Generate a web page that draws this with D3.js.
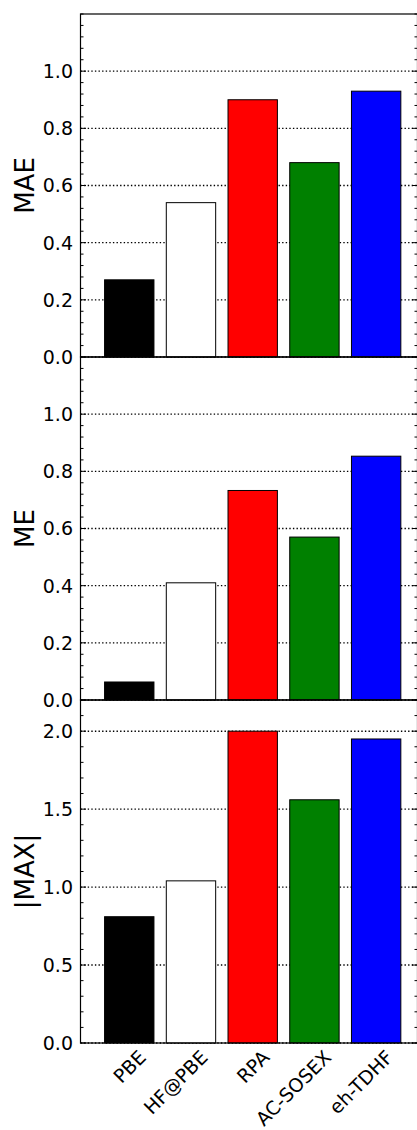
<!DOCTYPE html>
<html>
<head>
<meta charset="utf-8">
<script src="https://cdn.jsdelivr.net/npm/d3@7"></script>
<style>
  html, body { margin: 0; padding: 0; background: #ffffff; }
  svg { display: block; }
  text { font-family: "DejaVu Sans", sans-serif; fill: #000; }
</style>
</head>
<body>
<svg id="chart" width="417" height="1130"></svg>
<script>
// ---- data ----
const categories = ["PBE", "HF@PBE", "RPA", "AC-SOSEX", "eh-TDHF"];
const barColors = ["#000000", "#ffffff", "#ff0000", "#008000", "#0000ff"];
const maeValues = [0.27, 0.54, 0.90, 0.68, 0.93];
const meValues = [0.063, 0.41, 0.733, 0.57, 0.853];
const maxValues = [0.81, 1.04, 2.00, 1.56, 1.95];
const panelLabels = ["MAE", "ME", "|MAX|"];
const smallMajorTicks = [0.0, 0.2, 0.4, 0.6, 0.8, 1.0];
const largeMajorTicks = [0.0, 0.5, 1.0, 1.5, 2.0];
const smallMinorStep = 0.04;
const largeMinorStep = 0.1;
const smallYMax = 1.2;
const largeYMax = 2.2;

const panels = [
  { label: panelLabels[0], values: maeValues, ymax: smallYMax, major: smallMajorTicks, minorStep: smallMinorStep },
  { label: panelLabels[1], values: meValues, ymax: smallYMax, major: smallMajorTicks, minorStep: smallMinorStep },
  { label: panelLabels[2], values: maxValues, ymax: largeYMax, major: largeMajorTicks, minorStep: largeMinorStep }
];

// ---- layout ----
const svg = d3.select("#chart");
const left = 80.5, right = 417.5;
const top0 = 14, panelH = 343;
const fontTick = 19, fontLabel = 26;

const x = d3.scaleLinear().domain([-0.79, 4.67]).range([left, right]);
const barW = 0.8;

panels.forEach((p, pi) => {
  const top = top0 + pi * panelH;
  const bottom = top + panelH;
  const y = d3.scaleLinear().domain([0, p.ymax]).range([bottom, top]);
  const g = svg.append("g");

  // grid lines (dotted) at major ticks
  g.selectAll("line.grid").data(p.major).enter().append("line")
    .attr("x1", left).attr("x2", right)
    .attr("y1", d => y(d)).attr("y2", d => y(d))
    .attr("stroke", "#000").attr("stroke-width", 1.4)
    .attr("stroke-dasharray", "1.4,2.2");

  // bars
  g.selectAll("rect.bar").data(p.values).enter().append("rect")
    .attr("x", (d, i) => x(i - barW / 2))
    .attr("width", (d, i) => x(i + barW / 2) - x(i - barW / 2))
    .attr("y", d => y(d))
    .attr("height", d => y(0) - y(d))
    .attr("fill", (d, i) => barColors[i])
    .attr("stroke", "#000").attr("stroke-width", 1);

  // minor ticks
  const nMinor = Math.round(p.ymax / p.minorStep);
  const minor = d3.range(0, nMinor + 1).map(k => +(k * p.minorStep).toFixed(4));
  const minorOnly = minor.filter(v => !p.major.some(m => Math.abs(m - v) < 1e-6));
  minorOnly.forEach(v => {
    g.append("line").attr("x1", left).attr("x2", left + 3)
      .attr("y1", y(v)).attr("y2", y(v)).attr("stroke", "#000").attr("stroke-width", 1);
    g.append("line").attr("x1", right - 3).attr("x2", right)
      .attr("y1", y(v)).attr("y2", y(v)).attr("stroke", "#000").attr("stroke-width", 1);
  });
  // major ticks
  p.major.forEach(v => {
    g.append("line").attr("x1", left).attr("x2", left + 5.5)
      .attr("y1", y(v)).attr("y2", y(v)).attr("stroke", "#000").attr("stroke-width", 1);
    g.append("line").attr("x1", right - 5.5).attr("x2", right)
      .attr("y1", y(v)).attr("y2", y(v)).attr("stroke", "#000").attr("stroke-width", 1);
  });

  // tick labels
  g.selectAll("text.tick").data(p.major).enter().append("text")
    .attr("x", left - 7.5)
    .attr("y", d => y(d))
    .attr("dy", "0.36em")
    .attr("text-anchor", "end")
    .attr("font-size", fontTick)
    .text(d => d3.format(".1f")(d));

  // frame
  g.append("rect")
    .attr("x", left).attr("y", top)
    .attr("width", right - left).attr("height", bottom - top)
    .attr("fill", "none").attr("stroke", "#000").attr("stroke-width", 1.2);

  // y label
  g.append("text")
    .attr("transform", `translate(33.5,${(top + bottom) / 2}) rotate(-90)`)
    .attr("text-anchor", "middle")
    .attr("font-size", fontLabel)
    .text(p.label);

  // x labels on last panel
  if (pi === panels.length - 1) {
    g.selectAll("text.xlab").data(categories).enter().append("text")
      .attr("transform", (d, i) => `translate(${x(i) + 18},${bottom + 15.5}) rotate(-45)`)
      .attr("text-anchor", "end")
      .attr("font-size", fontTick)
      .text(d => d);
  }
});
</script>
</body>
</html>
